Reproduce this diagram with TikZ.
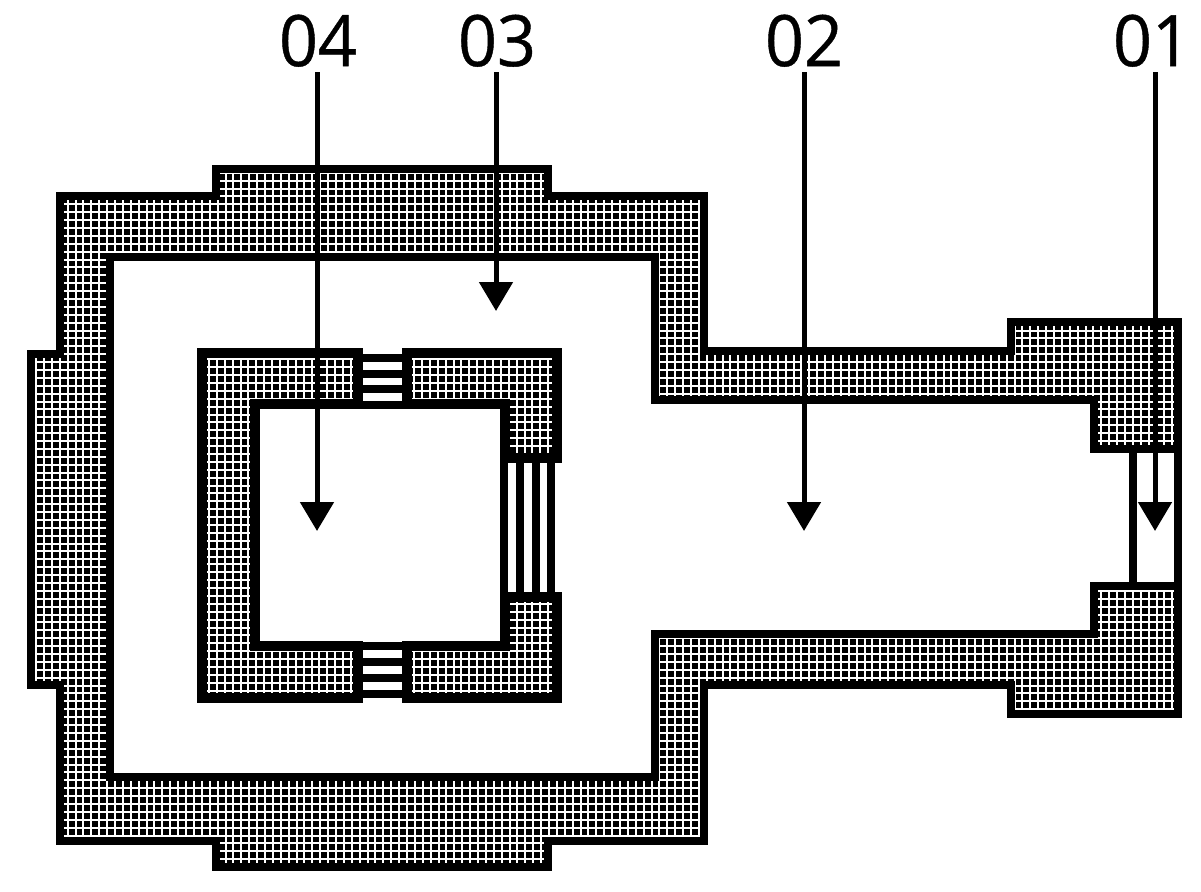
\documentclass[tikz,border=0pt]{standalone}
\usepackage{fontspec}
\setmainfont{Open Sans}
\newfontfamily\labelfont[FakeBold=0.6]{Open Sans}
\usetikzlibrary{arrows.meta}
\tikzset{
  x=1pt,y=-1pt,
  outerwall/.style={line width=8.5pt,miter limit=10},
  innerwall/.style={line width=10pt,miter limit=10},
  bar/.style={line width=8pt},
  label/.style={inner sep=0pt,anchor=south,font=\labelfont\fontsize{71}{71}\selectfont,xscale=.96},
  callout/.style={line width=5pt,-{Triangle[width=33pt,length=29pt]},shorten <=5pt}
}
\newcommand{\meshfill}[3]{%
  \begin{scope}
    \clip #1;
    \fill[black] (0,0) rectangle (1201,891);
    \foreach \i in {-30,...,150}{\draw[white,line width=2pt] ({#2+7.89*\i},0) -- ({#2+7.89*\i},891);}
    \foreach \j in {-30,...,90}{\draw[white,line width=2pt] (0,{#3+7.89*\j}) -- (1201,{#3+7.89*\j});}
  \end{scope}}
\begin{document}
\begin{tikzpicture}
\useasboundingbox (0,0) rectangle (1201,891);
\def\outerring{(655,400) -- (1094,400) -- (1094,449) -- (1178,449) -- (1178,322) -- (1011,322) -- (1011,351) -- (704,351) -- (704,196) -- (548,196) -- (548,169) -- (216,169) -- (216,196) -- (60,196) -- (60,354) -- (31,354) -- (31,685) -- (60,685) -- (60,841) -- (216,841) -- (216,867) -- (548,867) -- (548,841) -- (704,841) -- (704,685) -- (1011,685) -- (1011,714) -- (1178,714) -- (1178,586) -- (1094,586) -- (1094,634) -- (655,634) -- (655,777) -- (110,777) -- (110,257) -- (655,257) -- cycle}
\def\blockleft{(202,353) -- (358,353) -- (358,404) -- (255,404) -- (255,646) -- (358,646) -- (358,698) -- (202,698) -- cycle}
\def\blocktop{(407,353) -- (557,353) -- (557,458) -- (505,458) -- (505,404) -- (407,404) -- cycle}
\def\blockbottom{(407,698) -- (557,698) -- (557,597) -- (505,597) -- (505,646) -- (407,646) -- cycle}
\meshfill{\outerring}{67.7}{204.3}
\meshfill{\blockleft}{209}{359.3}
\meshfill{\blocktop}{209}{359.3}
\meshfill{\blockbottom}{209}{359.3}
\draw[outerwall] \outerring;
\draw[innerwall] \blockleft;
\draw[innerwall] \blocktop;
\draw[innerwall] \blockbottom;
% contact fingers
\foreach \y in {358,373.5,389,405,646,662,678,693.5}{\draw[bar] (358,\y) -- (407,\y);}
\foreach \x in {504,519.5,535.5,551}{\draw[bar] (\x,458) -- (\x,597);}
\draw[bar] (1133,449) -- (1133,586);
\draw[bar] (1178,449) -- (1178,586);
% labels
\node[label] (t04) at (318,67) {04};
\node[label] (t03) at (497,67) {03};
\node[label] (t02) at (804,67) {02};
\node[label] (t01) at (1152,67) {01};
\coordinate (a04) at (317,531);
\coordinate (a03) at (496,311);
\coordinate (a02) at (804,531);
\coordinate (a01) at (1155,531);
\draw[callout] (a04 |- t04.south) -- (a04);
\draw[callout] (a03 |- t03.south) -- (a03);
\draw[callout] (a02 |- t02.south) -- (a02);
\draw[callout] (a01 |- t01.south) -- (a01);
\end{tikzpicture}
\end{document}
